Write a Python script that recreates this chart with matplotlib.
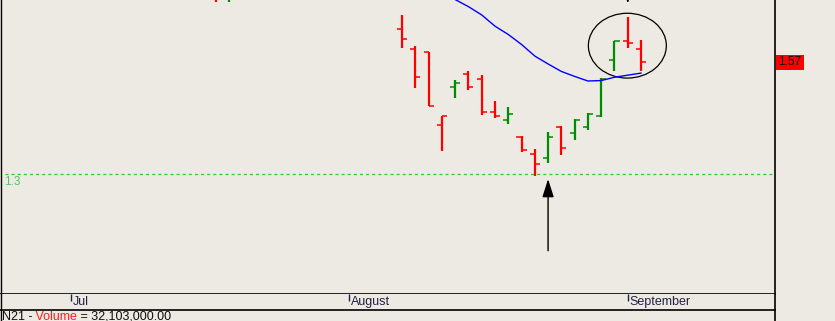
"""日线OHLC图 - 支撑位、均线、标注箭头"""

import numpy as np
import matplotlib
matplotlib.use("Agg")  # 无GUI后端
import matplotlib.pyplot as plt
import matplotlib.transforms as mtransforms
from matplotlib.patches import Ellipse, Rectangle
from matplotlib.lines import Line2D

plt.rcParams["font.family"] = ["Liberation Sans", "DejaVu Sans"]
plt.rcParams["lines.scale_dashes"] = False

# 数据：K线序号（0 = 第一根完整可见的K线）
bar_idx = np.array([-14, -13] + list(range(19)))
opens = np.array([1.770, 1.730, 1.649, 1.601, 1.594, 1.418, 1.510, 1.541, 1.529, 1.450, 1.430,
                  1.390, 1.349, 1.339, 1.414, 1.399, 1.414, 1.440, 1.575, 1.621, 1.601])
highs = np.array([1.780, 1.770, 1.684, 1.608, 1.594, 1.440, 1.527, 1.549, 1.539, 1.477, 1.462,
                  1.393, 1.361, 1.402, 1.417, 1.434, 1.448, 1.531, 1.621, 1.679, 1.624])
lows = np.array([1.714, 1.715, 1.605, 1.509, 1.464, 1.357, 1.485, 1.504, 1.444, 1.435, 1.422,
                 1.353, 1.297, 1.328, 1.347, 1.383, 1.407, 1.439, 1.550, 1.605, 1.550])
closes = np.array([1.730, 1.760, 1.625, 1.534, 1.464, 1.440, 1.519, 1.510, 1.450, 1.440, 1.445,
                   1.358, 1.325, 1.390, 1.363, 1.430, 1.445, 1.530, 1.621, 1.616, 1.570])

# 均线
ma_idx = np.arange(3, 19)
ma_vals = [1.734, 1.721, 1.704, 1.684, 1.657, 1.637, 1.613, 1.585,
           1.566, 1.548, 1.536, 1.525, 1.526, 1.534, 1.539, 1.544]

# 月份刻度
month_pos = [-24.9, -4, 17]
month_labels = ["Jul", "August", "September"]

support = 1.3
last_price = closes[-1]
low_bar = 11            # 向上箭头所指K线
top_bar = 17            # 顶部向下箭头 / 圆圈中心
volume_text = "32,103,000.00"

bg = "#ede9e3"
W, H = 835, 321
plot_w = 774.5

fig = plt.figure(figsize=(W / 100, H / 100), dpi=100, facecolor=bg)

# 主图
ax = fig.add_axes([0, 27 / H, plot_w / W, 294 / H])
ax.set_facecolor(bg)
ax.set_xlim(-30.27, 28.05)
ax.set_ylim(1.0124, 1.7199)
for s in ["left", "right", "top"]:
    ax.spines[s].set_visible(False)
ax.spines["bottom"].set_linewidth(1.2)
ax.set_xticks([])
ax.set_yticks([])

up = np.r_[False, closes[1:] > closes[:-1]]
colors = np.where(up, "#008c00", "#ff0000")
tick = 0.38
ax.vlines(bar_idx, lows, highs, colors=colors, linewidth=1.6)
ax.hlines(opens, bar_idx - tick, bar_idx, colors=colors, linewidth=1.1)
ax.hlines(closes, bar_idx, bar_idx + tick, colors=colors, linewidth=1.1)

ax.plot(ma_idx, ma_vals, color="#0000ff", linewidth=1)

# 支撑线
ax.axhline(support, xmin=5 / plot_w, color="#2ecc2e", linewidth=0.9, linestyle=(0, (2.2, 2.2)))
blend = mtransforms.blended_transform_factory(ax.transAxes, ax.transData)
ax.annotate(f"{support:g}", xy=(4 / plot_w, support), xycoords=blend,
            xytext=(0, -2), textcoords="offset pixels",
            va="top", ha="left", fontsize=8.5, color="#50c860")

# 圆圈
ax.add_patch(Ellipse((top_bar - 0.03, 1.610), 5.87, 0.156, fill=False,
                     edgecolor="black", linewidth=0.9))

# 箭头
ax.annotate("", xy=(low_bar, 1.289), xytext=(low_bar, 1.1166),
            arrowprops=dict(arrowstyle="-|>,head_length=1.1,head_width=0.35",
                            color="black", lw=1, mutation_scale=10,
                            shrinkA=0, shrinkB=0))
ax.annotate("", xy=(top_bar, 1.7115), xytext=(top_bar, 1.80),
            arrowprops=dict(arrowstyle="-|>,head_length=1.1,head_width=0.35",
                            color="black", lw=1, mutation_scale=10,
                            shrinkA=0, shrinkB=0))

# 右侧最新价标签
ax.add_patch(Rectangle((1 + 1.5 / plot_w, last_price - 0.018), 28 / plot_w, 0.0361,
                       transform=blend, clip_on=False, color="#ff0000", linewidth=0))
ax.text(1 + 15.5 / plot_w, last_price, f"{last_price:.2f}", transform=blend,
        ha="center", va="center", fontsize=8.5, color="#111111", clip_on=False)

# 时间轴
ax2 = fig.add_axes([0, 11 / H, plot_w / W, 16 / H])
ax2.set_facecolor(bg)
ax2.set_xlim(ax.get_xlim())
ax2.set_ylim(0, 1)
for s in ["left", "right", "top"]:
    ax2.spines[s].set_visible(False)
ax2.spines["bottom"].set_linewidth(1.2)
ax2.set_yticks([])
ax2.set_xticks(month_pos)
ax2.tick_params(axis="x", top=True, bottom=False, direction="in", length=5, width=1,
                labelbottom=False, color="#222244")
blend2 = mtransforms.blended_transform_factory(ax2.transData, ax2.transAxes)
for m, lab in zip(month_pos, month_labels):
    ax2.annotate(lab, xy=(m, 0.5), xycoords=blend2, xytext=(2, 0),
                 textcoords="offset pixels", ha="left", va="center",
                 fontsize=9, color="#222244")

# 左右边框
fig.add_artist(Line2D([0.5 / W, 0.5 / W], [0, 1], transform=fig.transFigure,
                      color="black", linewidth=1))
fig.add_artist(Line2D([plot_w / W, plot_w / W], [0, 1], transform=fig.transFigure,
                      color="black", linewidth=1.2))

# 底部指标文字
t1 = fig.text(2 / W, 1 - 310.5 / H, "N21 -", va="top", ha="left", fontsize=9, color="#111111")
t2 = fig.text(0, 0, "", fontsize=9)
t2 = plt.annotate(" Volume", xy=(1, 0), xycoords=t1, va="bottom", ha="left",
                  fontsize=9, color="#ff2020", annotation_clip=False)
plt.annotate(f" = {volume_text}", xy=(1, 0), xycoords=t2, va="bottom", ha="left",
             fontsize=9, color="#111111", annotation_clip=False)

fig.savefig("out.png", dpi=100, facecolor=bg)
plt.close(fig)
